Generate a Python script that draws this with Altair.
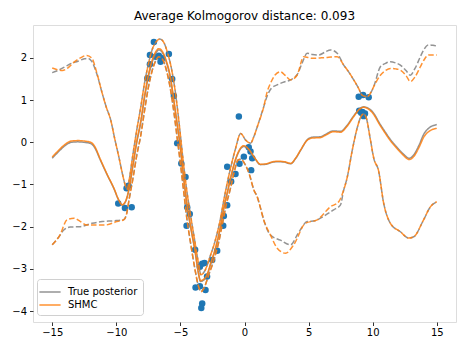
import altair as alt
import pandas as pd

TITLE = "Average Kolmogorov distance: 0.093"
METHODS = ["True posterior", "SHMC"]
X_TICKS = [-15, -10, -5, 0, 5, 10, 15]
Y_TICKS = [-4, -3, -2, -1, 0, 1, 2]

# observed data points
PX = [-9.85, -9.33, -8.8, -9.2, -9.05,
      -7.58, -7.38, -7.38, -7.07, -6.94, -6.68, -6.55, -6.41, -5.9, -5.64, -5.51,
      -5.25, -4.93, -4.6, -4.47, -4.27, -4.52, -3.85,
      -3.3, -3.12, -3.48, -2.92, -3.82, -3.48, -3.04, -3.3, -3.37,
      -2.52, -2.13, -1.66, -1.61, -1.35, -1.35, -1.04, -0.7, -0.39, -0.05, 0.33, 0.47, 0.6, 0.52, -0.44,
      8.91, 9.25, 9.69, 8.95, 9.2, 9.4, 9.3, 9.1]
PY = [-1.45, -1.56, -1.54, -1.09, -1.03,
      1.52, 1.85, 2.07, 2.38, 2.03, 2.05, 1.91, 1.99, 2.09, 1.5, 1.10,
      -0.02, -0.5, -0.82, -1.54, -1.7, -1.98, -2.55,
      -2.88, -2.86, -2.95, -3.18, -3.44, -3.41, -3.5, -3.82, -3.93,
      -2.79, -2.57, -1.98, -1.75, -1.49, -0.58, -0.93, -0.75, -0.51, -0.34, -0.12, -0.22, -0.38, -0.66, 0.61,
      1.08, 1.12, 1.07, 0.75, 0.72, 0.68, 0.62, 0.7]

# true posterior mean
GM_x = [-15, -14.5, -14, -13.5, -13, -12.5, -12, -11.7, -11.25, -10.7, -10.2, -9.8, -9.55, -9.3, -9.0,
        -8.7, -8.4, -8.1, -7.8, -7.5, -7.2, -6.9, -6.68, -6.4, -6.1, -5.8, -5.5, -5.25, -5.0, -4.75,
        -4.47, -4.15, -3.85, -3.6, -3.43, -3.0, -2.6, -2.2, -1.9, -1.6, -1.3, -1.0, -0.7, -0.4, -0.05,
        0.4, 0.8, 1.25, 1.7, 2.1, 2.6, 3.1, 3.6, 4.0, 4.4, 4.9, 5.3, 5.9, 6.4, 6.9, 7.5, 8.0, 8.5,
        9.0, 9.3, 9.7, 10.1, 10.5, 10.9, 11.4, 11.9, 12.4, 12.85, 13.2, 13.6, 14.0, 14.4, 15.0]
GM_y = [-0.38, -0.22, -0.08, 0.0, 0.01, 0.0, -0.03, -0.12, -0.42, -0.78, -1.09, -1.38, -1.49, -1.42, -1.1,
        -0.55, 0.0, 0.45, 1.05, 1.55, 1.9, 2.12, 2.19, 2.12, 1.9, 1.55, 0.95, 0.41, -0.15, -0.85,
        -1.53, -2.1, -2.6, -3.1, -3.3, -3.2, -2.85, -2.45, -2.05, -1.55, -1.15, -0.75, -0.42, -0.2, -0.1,
        -0.2, -0.38, -0.53, -0.52, -0.48, -0.46, -0.47, -0.51, -0.38, -0.18, 0.06, 0.12, 0.13, 0.2, 0.27, 0.26, 0.4, 0.62,
        0.8, 0.84, 0.8, 0.68, 0.47, 0.28, 0.06, -0.12, -0.28, -0.38, -0.3, -0.08, 0.2, 0.34, 0.42]
# SHMC mean
OM_y = [-0.35, -0.19, -0.05, 0.03, 0.04, 0.03, 0.0, -0.09, -0.4, -0.77, -1.08, -1.37, -1.48, -1.41, -1.08,
        -0.52, 0.04, 0.5, 1.1, 1.6, 1.95, 2.16, 2.22, 2.15, 1.93, 1.58, 0.98, 0.44, -0.12, -0.82,
        -1.5, -2.08, -2.58, -3.08, -3.28, -3.18, -2.83, -2.43, -2.03, -1.53, -1.13, -0.73, -0.4, -0.18, -0.08,
        -0.19, -0.37, -0.52, -0.51, -0.47, -0.45, -0.46, -0.5, -0.37, -0.17, 0.05, 0.1, 0.11, 0.18, 0.25, 0.24, 0.38, 0.6,
        0.79, 0.83, 0.78, 0.65, 0.44, 0.25, 0.03, -0.15, -0.31, -0.41, -0.34, -0.13, 0.13, 0.26, 0.33]

# shared upper band through the data
MU_x = [-10.8, -10.44, -10.1, -9.8, -9.5, -9.3, -9.15, -9.0, -8.7, -8.4, -8.1, -7.8, -7.5, -7.2, -6.9,
        -6.6, -6.3, -6.0, -5.7, -5.4, -5.1, -4.8, -4.5, -4.2, -3.9, -3.6, -3.4, -3.1, -2.7, -2.3, -1.9,
        -1.6, -1.3, -1.0, -0.7, -0.3, 0.1, 0.47, 0.75, 1.0, 1.5]
MU_y = [0.85, 0.53, 0.05, -0.35, -0.78, -1.02, -1.12, -0.9, -0.28, 0.3, 0.82, 1.4, 1.85, 2.2, 2.38,
        2.45, 2.37, 2.12, 1.75, 1.2, 0.45, -0.4, -1.15, -1.75, -2.3, -2.85, -3.14, -3.05, -2.72, -2.35, -1.85,
        -1.35, -0.9, -0.5, -0.15, 0.21, 0.05, -0.02, 0.15, 0.37, 0.84]

GU_x = [-15, -14.5, -14, -13.5, -13, -12.5, -12.2, -11.9, -11.5, -11.1] + MU_x + [
        1.77, 2.1, 2.55, 3.0, 3.59, 4.1, 4.5, 4.89, 5.3, 5.79, 6.3, 6.7, 7.23, 7.74, 8.1, 8.52, 8.9,
        9.17, 9.56, 9.8, 10.08, 10.6, 11.0, 11.38, 11.8, 12.16, 12.6, 12.94, 13.3, 13.72, 14.0, 14.36, 14.7, 15.0]
GU_y = [1.65, 1.71, 1.79, 1.87, 1.92, 1.98, 1.99, 1.91, 1.6, 1.16] + MU_y + [
        1.1, 1.28, 1.36, 1.42, 1.48, 1.6, 1.88, 2.11, 2.08, 2.07, 2.14, 2.19, 2.11, 1.83, 1.68, 1.48, 1.28,
        1.12, 1.08, 1.15, 1.32, 1.79, 1.87, 1.91, 1.88, 1.83, 1.7, 1.59, 1.75, 2.03, 2.2, 2.31, 2.3, 2.28]

OU_x = [-15, -14.6, -14.2, -13.8, -13.3, -12.8, -12.3, -11.9, -11.5, -11.1] + MU_x + [
        1.77, 2.03, 2.4, 2.8, 3.2, 3.59, 4.1, 4.62, 5.28, 5.9, 6.45, 7.23, 7.74, 8.1, 8.52, 8.9,
        9.17, 9.56, 9.8, 10.08, 10.6, 11.0, 11.38, 11.8, 12.16, 12.6, 12.94, 13.3, 13.72, 14.0, 14.36, 14.7, 15.0]
OU_y = [1.76, 1.72, 1.70, 1.76, 1.9, 2.0, 2.06, 1.99, 1.62, 1.16] + MU_y + [
        1.2, 1.40, 1.6, 1.67, 1.58, 1.48, 1.59, 2.03, 1.99, 2.0, 2.01, 2.03, 1.83, 1.68, 1.48, 1.28,
        1.12, 1.08, 1.15, 1.32, 1.59, 1.7, 1.75, 1.74, 1.71, 1.58, 1.44, 1.55, 1.79, 1.95, 2.07, 2.07, 2.07]

# shared lower band through the data
ML_x = [-9.2, -9.0, -8.7, -8.4, -8.1, -7.8, -7.5, -7.2, -6.9, -6.7, -6.4, -6.1, -5.8, -5.5, -5.25,
        -5.0, -4.75, -4.5, -4.2, -3.9, -3.6, -3.4, -3.15, -2.8, -2.4, -2.0, -1.7, -1.4, -1.1, -0.8,
        -0.5, -0.3, 0.0, 0.4, 0.73, 1.0, 1.25, 1.5, 2.03]
ML_y = [-1.7, -1.35, -0.85, -0.3, 0.15, 0.75, 1.3, 1.7, 1.95, 2.03, 1.97, 1.72, 1.3, 0.7, 0.1,
        -0.5, -1.15, -1.8, -2.4, -2.95, -3.4, -3.54, -3.45, -3.15, -2.8, -2.35, -1.9, -1.45, -1.1, -0.7,
        -0.42, -0.4, -0.5, -0.78, -1.13, -1.3, -1.56, -1.84, -2.2]
RL_x = [8.0, 8.4, 8.8, 9.1, 9.3, 9.5, 9.8, 10.1, 10.45, 10.86, 11.38, 12.16, 12.8, 13.2, 13.97, 14.5, 15.0]
RL_y = [-0.85, -0.2, 0.35, 0.62, 0.67, 0.58, 0.1, -0.4, -0.66, -1.45, -1.92, -2.12, -2.27, -2.24, -1.84, -1.53, -1.41]

GL_x = [-15, -14.5, -14.1, -13.6, -12.8, -11.9, -11.1, -10.2, -9.4] + ML_x + [
        2.8, 3.59, 4.2, 4.89, 5.5, 6.2, 6.96, 7.48, 7.74] + RL_x
GL_y = [-2.43, -2.25, -2.08, -2.01, -2.0, -1.92, -1.88, -1.86, -1.83] + ML_y + [
        -2.32, -2.43, -2.15, -1.88, -1.86, -1.75, -1.6, -1.49, -1.13] + RL_y

OL_x = [-15, -14.4, -13.85, -13.3, -12.8, -12.3, -11.6, -10.85, -9.95, -9.43] + ML_x + [
        2.55, 3.2, 3.84, 4.75, 5.67, 6.7, 7.35, 7.74] + RL_x
OL_y = [-2.43, -2.2, -1.84, -1.80, -1.88, -1.96, -1.96, -1.96, -1.88, -1.84] + ML_y + [
        -2.51, -2.63, -2.43, -1.92, -1.84, -1.53, -1.41, -1.13] + RL_y


def frame(xs, ys, method, part):
    return pd.DataFrame({"x": xs, "y": ys, "method": method, "part": part})


gray_df = pd.concat([frame(GM_x, GM_y, METHODS[0], "mean"),
                     frame(GU_x, GU_y, METHODS[0], "upper"),
                     frame(GL_x, GL_y, METHODS[0], "lower")])
orange_df = pd.concat([frame(GM_x, OM_y, METHODS[1], "mean"),
                       frame(OU_x, OU_y, METHODS[1], "upper"),
                       frame(OL_x, OL_y, METHODS[1], "lower")])
pts_df = pd.DataFrame({"x": PX, "y": PY})

FONT = "DejaVu Sans"
xscale = alt.Scale(domain=[-16.5, 16.5], nice=False, zero=False)
yscale = alt.Scale(domain=[-4.26, 2.78], nice=False, zero=False)
xaxis = alt.Axis(values=X_TICKS, title=None, grid=False, domain=False, tickColor="black",
                 tickSize=3.5, tickWidth=0.8, labelFontSize=10, labelFont=FONT,
                 labelColor="black", labelPadding=2)
yaxis = alt.Axis(values=Y_TICKS, title=None, grid=False, domain=False, tickColor="black",
                 tickSize=3.5, tickWidth=0.8, labelFontSize=10, labelFont=FONT,
                 labelColor="black", labelPadding=3)

color = alt.Color("method:N",
                  scale=alt.Scale(domain=METHODS, range=["#808080", "#ff7f0e"]),
                  legend=alt.Legend(title=None, orient="none", legendX=4, legendY=254,
                                    symbolType="M-1.5,0L1.5,0", symbolStrokeWidth=1.5, symbolSize=200,
                                    labelFontSize=10, labelFont=FONT, labelColor="black",
                                    labelOffset=10, rowPadding=0, padding=5,
                                    fillColor="white", strokeColor="#d0d0d0", cornerRadius=3))
dash = alt.StrokeDash("part:N",
                      scale=alt.Scale(domain=["mean", "upper", "lower"],
                                      range=[[1, 0], [5.5, 2.4], [5.5, 2.4]]),
                      legend=None)

points = alt.Chart(pts_df).mark_circle(size=42, color="#1f77b4", opacity=1).encode(
    x=alt.X("x:Q", scale=xscale, axis=xaxis),
    y=alt.Y("y:Q", scale=yscale, axis=yaxis),
)


def lines(df):
    return alt.Chart(df).mark_line(strokeWidth=1.5, opacity=0.85, interpolate="monotone").encode(
        x=alt.X("x:Q", scale=xscale, axis=xaxis),
        y=alt.Y("y:Q", scale=yscale, axis=yaxis),
        color=color,
        strokeDash=dash,
        detail="part:N",
        order="x:Q",
    )


chart = alt.layer(points, lines(gray_df), lines(orange_df)).properties(
    width=423, height=297,
    title=alt.Title(TITLE, fontSize=12, fontWeight="normal", font=FONT, color="black",
                    offset=2, anchor="middle"),
    autosize=alt.AutoSizeParams(type="none"),
    padding={"left": 25, "top": 17, "right": 3, "bottom": 20},
).configure_view(stroke="black", strokeWidth=0.8).configure(background="white")

chart.save("out.html", embed_options={"renderer": "svg", "actions": False})
